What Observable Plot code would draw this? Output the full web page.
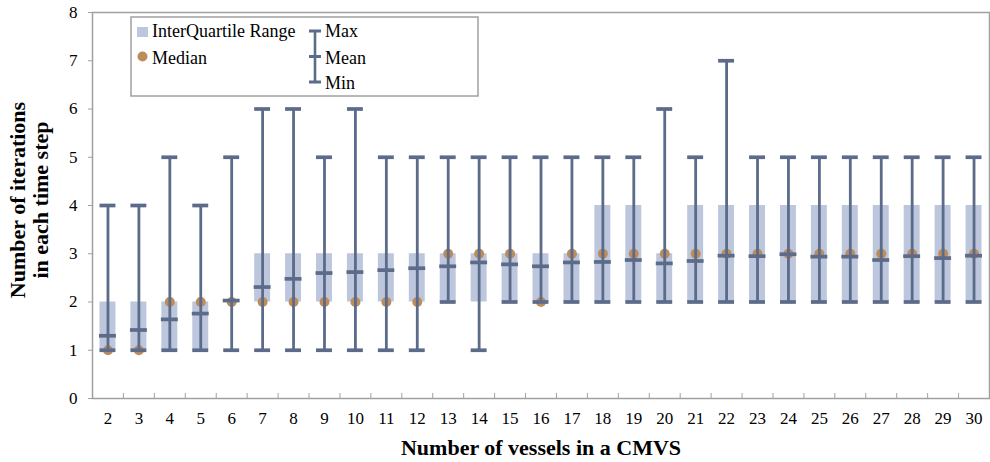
<!DOCTYPE html>
<html>
<head>
<meta charset="utf-8">
<script src="https://cdn.jsdelivr.net/npm/d3@7"></script>
<script src="https://cdn.jsdelivr.net/npm/@observablehq/plot@0.6"></script>
<style>
  html, body { margin: 0; padding: 0; background: #fff; overflow: hidden; }
  #wrap { position: relative; width: 990px; height: 462px; font-family: "Liberation Serif", "Times New Roman", Times, serif; }
  #wrap svg { position: absolute; left: 0; top: 0; }
  .ylab { position: absolute; font-weight: bold; font-size: 22px; white-space: nowrap; text-align: center; line-height: 23px;
          transform: translate(-50%, -50%) rotate(-90deg); left: 29px; top: 200px; color: #000; }
  .xlab { position: absolute; font-weight: bold; font-size: 22px; white-space: nowrap; left: 541px; top: 448px; transform: translate(-50%, -50%); }
</style>
</head>
<body>
<div id="wrap"></div>
<script>
const categories = [2,3,4,5,6,7,8,9,10,11,12,13,14,15,16,17,18,19,20,21,22,23,24,25,26,27,28,29,30];
const maxValues  = [4,4,5,4,5,6,6,5,6,5,5,5,5,5,5,5,5,5,6,5,7,5,5,5,5,5,5,5,5];
const minValues  = [1,1,1,1,1,1,1,1,1,1,1,2,1,2,2,2,2,2,2,2,2,2,2,2,2,2,2,2,2];
const q1Values   = [1,1,1,1,2,2,2,2,2,2,2,2,2,2,2,2,2,2,2,2,2,2,2,2,2,2,2,2,2];
const q3Values   = [2,2,2,2,2,3,3,3,3,3,3,3,3,3,3,3,4,4,3,4,4,4,4,4,4,4,4,4,4];
const medianValues = [1,1,2,2,2,2,2,2,2,2,2,3,3,3,2,3,3,3,3,3,3,3,3,3,3,3,3,3,3];
const meanValues = [1.30,1.42,1.64,1.76,2.03,2.31,2.48,2.60,2.62,2.66,2.70,2.74,2.82,2.78,2.74,2.82,2.83,2.87,2.80,2.85,2.96,2.95,2.99,2.94,2.94,2.87,2.95,2.91,2.96];
const yTicks = [0,1,2,3,4,5,6,7,8];
const legendLabels = ["InterQuartile Range", "Median", "Max", "Mean", "Min"];

const data = categories.map((c, i) => ({
  n: c, max: maxValues[i], min: minValues[i], q1: q1Values[i], q3: q3Values[i],
  median: medianValues[i], mean: meanValues[i]
}));

const boxColor = "#bcc6dc";
const lineColor = "#5b6b89";
const dotColor = "#bb8c5c";
const frameColor = "#a0a0a0";
const font = "'Liberation Serif', 'Times New Roman', Times, serif";

const chart = Plot.plot({
  width: 990,
  height: 462,
  marginLeft: 92,
  marginRight: 1,
  marginTop: 12,
  marginBottom: 64,
  style: { fontFamily: font, fontSize: "17px", color: "#000", background: "transparent" },
  x: { type: "band", domain: categories, padding: 0, round: false },
  y: { domain: [0, 8] },
  marks: [
    Plot.frame({ stroke: frameColor, strokeWidth: 1.5 }),
    Plot.axisY({ ticks: yTicks, tickSize: 4, tickPadding: 11, label: null, stroke: frameColor, fontSize: 17 }),
    Plot.axisX({ tickSize: 0, tickPadding: 13, label: null, fontSize: 17 }),
    Plot.axisX({ ticks: categories.slice(1), tickSize: -5, text: null, dx: -15.47, label: null, stroke: frameColor }),
    Plot.barY(data, { x: "n", y1: "q1", y2: "q3", fill: boxColor, insetLeft: 7.5, insetRight: 7.5 }),
    Plot.dot(data, { x: "n", y: "median", r: 5, fill: dotColor }),
    Plot.ruleX(data, { x: "n", y1: "min", y2: "max", stroke: lineColor, strokeWidth: 2.8 }),
    Plot.tickY(data, { x: "n", y: "max", stroke: lineColor, strokeWidth: 3.7, inset: 7.5 }),
    Plot.tickY(data, { x: "n", y: "min", stroke: lineColor, strokeWidth: 3.7, inset: 7.5 }),
    Plot.tickY(data, { x: "n", y: "mean", stroke: lineColor, strokeWidth: 3.7, inset: 7 })
  ]
});

const wrap = document.getElementById("wrap");
wrap.appendChild(chart);

const ylab = document.createElement("div");
ylab.className = "ylab";
ylab.innerHTML = "Number of iterations<br>in each time step";
wrap.appendChild(ylab);

const xlab = document.createElement("div");
xlab.className = "xlab";
xlab.textContent = "Number of vessels in a CMVS";
wrap.appendChild(xlab);

// Legend (inside the plot area, top-left)
const ns = "http://www.w3.org/2000/svg";
const leg = document.createElementNS(ns, "svg");
leg.setAttribute("width", "349");
leg.setAttribute("height", "81");
leg.style.left = "130px";
leg.style.top = "16px";
leg.innerHTML = `
  <rect x="1" y="1" width="347" height="79" fill="#fff" stroke="${frameColor}" stroke-width="1.5"></rect>
  <rect x="7" y="11" width="11" height="10" fill="${boxColor}"></rect>
  <circle cx="12.5" cy="40.5" r="5" fill="${dotColor}"></circle>
  <line x1="185" y1="15" x2="185" y2="66" stroke="${lineColor}" stroke-width="2.6"></line>
  <line x1="179" y1="15" x2="191" y2="15" stroke="${lineColor}" stroke-width="3"></line>
  <line x1="179" y1="40.5" x2="191" y2="40.5" stroke="${lineColor}" stroke-width="3"></line>
  <line x1="179" y1="66" x2="191" y2="66" stroke="${lineColor}" stroke-width="3"></line>
  <g font-family="${font}" font-size="18" fill="#000">
    <text x="22" y="21">${legendLabels[0]}</text>
    <text x="22" y="47.5">${legendLabels[1]}</text>
    <text x="195" y="21">${legendLabels[2]}</text>
    <text x="195" y="47.5">${legendLabels[3]}</text>
    <text x="195" y="72.5">${legendLabels[4]}</text>
  </g>
`;
wrap.appendChild(leg);
</script>
</body>
</html>
